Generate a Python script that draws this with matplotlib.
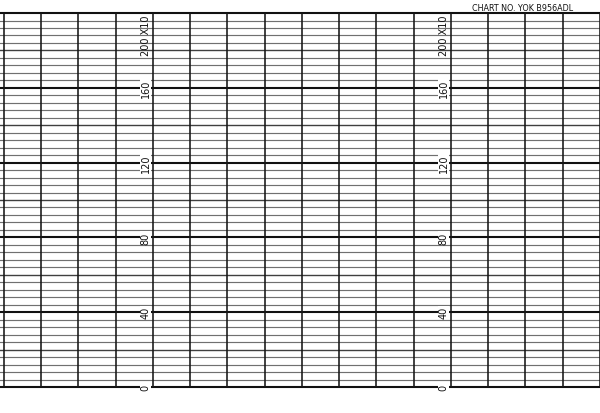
import numpy as np
import matplotlib
matplotlib.use("Agg")
import matplotlib.pyplot as plt

# chart paper scale (values x10)
major_vals = [0, 40, 80, 120, 160, 200]
major_labels = ["0", "40", "80", "120", "160", "200 X10"]
mid_vals = [20, 60, 100, 140, 180]
minor_vals = [v for v in range(0, 201, 4) if v % 20 != 0]
columns = list(range(17))        # vertical division lines
label_columns = [4, 12]          # columns carrying the scale numbers
chart_no = "CHART NO. YOK B956ADL"

fig = plt.figure(figsize=(6.0, 4.14), dpi=100)
ax = fig.add_axes([0, 0, 1, 1])
ax.set_xlim(-0.107, 16.0)
ax.set_ylim(-13.9, 207.5)
ax.axis("off")

# horizontal rulings
ax.hlines(minor_vals, -0.2, 16.2, colors="#707070", linewidth=0.85)
ax.hlines(mid_vals, -0.2, 16.2, colors="#404040", linewidth=1.0)
ax.hlines(major_vals, -0.2, 16.2, colors="#111111", linewidth=1.5)

# vertical rulings
ax.vlines(columns, 0, 200, colors="#151515", linewidth=1.15)

# scale numbers, rotated, just left of the label columns
for c in label_columns:
    for v, s in zip(major_vals, major_labels):
        if v == 200:
            ax.text(c - 0.2, v - 0.8, s, rotation=90, ha="center", va="top",
                    fontsize=7, color="#111111")
        else:
            ax.text(c - 0.2, v, s, rotation=90, ha="center", va="center",
                    fontsize=7, color="#111111",
                    bbox=dict(facecolor="white", edgecolor="none", pad=0.3))

ax.text(13.92, 200.4, chart_no, ha="center", va="bottom", fontsize=5.8,
        color="#111111")

fig.savefig("out.png", dpi=100, facecolor="white")
